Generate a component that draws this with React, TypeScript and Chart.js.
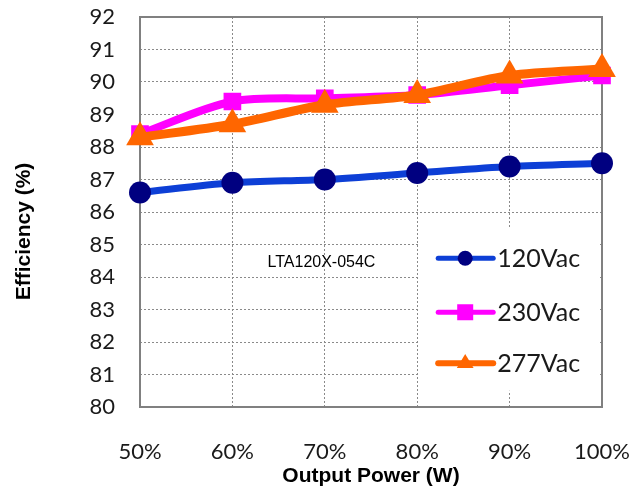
import React, { useEffect, useRef } from "react";
import { Chart, registerables } from "chart.js";

Chart.register(...registerables);

const categories = ["50%", "60%", "70%", "80%", "90%", "100%"];
const v120 = [86.6, 86.9, 87.0, 87.2, 87.4, 87.5];
const v230 = [88.4, 89.4, 89.5, 89.6, 89.9, 90.2];
const v277 = [88.3, 88.7, 89.3, 89.6, 90.2, 90.4];
const seriesNames = ["120Vac", "230Vac", "277Vac"];
const annotationText = "LTA120X-054C";
const xTitle = "Output Power (W)";
const yTitle = "Efficiency (%)";
const yMin = 80;
const yMax = 92;

const BLUE_LINE = "#0d3fd6";
const NAVY = "#000080";
const PINK = "#ff00ff";
const ORANGE = "#ff6600";

type Item = { name: string; line: string; fill: string; shape: string; lw: number };

function drawMarker(ctx: CanvasRenderingContext2D, shape: string, x: number, y: number, r: number, color: string) {
  ctx.save();
  ctx.fillStyle = color;
  ctx.beginPath();
  if (shape === "circle") {
    ctx.arc(x, y, r, 0, Math.PI * 2);
  } else if (shape === "rect") {
    ctx.rect(x - r, y - r, 2 * r, 2 * r);
  } else {
    ctx.moveTo(x, y - r * 1.15);
    ctx.lineTo(x + r * 1.05, y + r * 0.6);
    ctx.lineTo(x - r * 1.05, y + r * 0.6);
    ctx.closePath();
  }
  ctx.fill();
  ctx.restore();
}

const decorPlugin = {
  id: "decor",
  beforeDatasetsDraw(chart: any) {
    const { ctx, chartArea, scales } = chart;
    const xs = scales.x;
    const ys = scales.y;
    // legend box
    const bx0 = xs.getPixelForValue(3) + 1;
    const bx1 = chartArea.right - 3;
    const by0 = ys.getPixelForValue(85.5);
    const by1 = ys.getPixelForValue(80.5);
    ctx.save();
    ctx.fillStyle = "#ffffff";
    ctx.fillRect(bx0, by0, bx1 - bx0, by1 - by0);
    ctx.restore();

    const items: Item[] = [
      { name: seriesNames[0], line: BLUE_LINE, fill: NAVY, shape: "circle", lw: 5 },
      { name: seriesNames[1], line: PINK, fill: PINK, shape: "rect", lw: 5 },
      { name: seriesNames[2], line: ORANGE, fill: ORANGE, shape: "triangle", lw: 6 },
    ];
    const rowOffsets = [30, 84, 135];
    items.forEach((it, i) => {
      const cy = by0 + rowOffsets[i];
      const lx0 = bx0 + 20;
      const lx1 = bx0 + 75;
      ctx.save();
      ctx.strokeStyle = it.line;
      ctx.lineWidth = it.lw;
      ctx.lineCap = "round";
      ctx.beginPath();
      ctx.moveTo(lx0, cy);
      ctx.lineTo(lx1, cy);
      ctx.stroke();
      ctx.restore();
      drawMarker(ctx, it.shape, bx0 + 47, cy, it.shape === "circle" ? 7.5 : 8, it.fill);
      ctx.save();
      ctx.fillStyle = "#1a1a1a";
      ctx.font = "25px Lato";
      ctx.textBaseline = "middle";
      ctx.textAlign = "left";
      ctx.fillText(it.name, bx0 + 79, cy + 1);
      ctx.restore();
    });

    // annotation text
    ctx.save();
    ctx.fillStyle = "#000000";
    ctx.font = "16px 'Liberation Sans', Arial, sans-serif";
    ctx.textBaseline = "middle";
    ctx.textAlign = "left";
    ctx.fillText(annotationText, xs.getPixelForValue(1.38), ys.getPixelForValue(84.45));
    ctx.restore();

    // y title
    ctx.save();
    ctx.fillStyle = "#000000";
    ctx.font = "bold 21px 'Liberation Sans', Arial, sans-serif";
    ctx.textBaseline = "middle";
    ctx.textAlign = "center";
    ctx.translate(24, ys.getPixelForValue(85.4));
    ctx.rotate(-Math.PI / 2);
    ctx.fillText(yTitle, 0, 0);
    ctx.restore();

    // frame
    ctx.save();
    ctx.strokeStyle = "#808080";
    ctx.lineWidth = 2;
    ctx.strokeRect(chartArea.left, chartArea.top, chartArea.right - chartArea.left, chartArea.bottom - chartArea.top);
    ctx.restore();
  },
};

function zeroPad(scale: any) {
  scale.paddingTop = 0;
  scale.paddingBottom = 0;
  scale.paddingLeft = 0;
  scale.paddingRight = 0;
}

export default function App() {
  const ref = useRef<HTMLCanvasElement | null>(null);
  useEffect(() => {
    if (!ref.current) return;
    const chart = new Chart(ref.current, {
      type: "line",
      data: {
        labels: categories,
        datasets: [
          {
            label: seriesNames[0],
            data: v120,
            borderColor: BLUE_LINE,
            backgroundColor: NAVY,
            pointBackgroundColor: NAVY,
            pointBorderColor: NAVY,
            pointStyle: "circle",
            pointRadius: 11,
            pointBorderWidth: 0,
            borderWidth: 7,
            tension: 0.3,
            order: 2,
          },
          {
            label: seriesNames[1],
            data: v230,
            borderColor: PINK,
            backgroundColor: PINK,
            pointBackgroundColor: PINK,
            pointBorderColor: PINK,
            pointStyle: "rect",
            pointRadius: 12.5,
            pointBorderWidth: 0,
            borderWidth: 8,
            tension: 0.3,
            order: 1,
          },
          {
            label: seriesNames[2],
            data: v277,
            borderColor: ORANGE,
            backgroundColor: ORANGE,
            pointBackgroundColor: ORANGE,
            pointBorderColor: ORANGE,
            pointStyle: "triangle",
            pointRadius: 16,
            pointBorderWidth: 0,
            borderWidth: 9,
            tension: 0.3,
            order: 0,
          },
        ],
      },
      options: {
        animation: false,
        responsive: true,
        maintainAspectRatio: false,
        layout: { autoPadding: false, padding: { top: 17, right: 42, left: 0, bottom: 0 } },
        plugins: { legend: { display: false }, tooltip: { enabled: false } },
        scales: {
          x: {
            type: "category",
            offset: false,
            grid: { color: "#8a8a8a", lineWidth: 1, drawTicks: false },
            border: { display: false, dash: [2, 2] },
            ticks: { font: { family: "Lato", size: 22 }, color: "#1a1a1a", padding: 32, maxRotation: 0 },
            title: {
              display: true,
              text: xTitle,
              font: { family: "'Liberation Sans', Arial", size: 21, weight: "bold" },
              color: "#000000",
              padding: { top: 0, bottom: 4 },
            },
            afterFit: (scale: any) => {
              scale.height = 86;
              zeroPad(scale);
            },
          },
          y: {
            min: yMin,
            max: yMax,
            grid: { color: "#8a8a8a", lineWidth: 1, drawTicks: false },
            border: { display: false, dash: [2, 2] },
            ticks: { stepSize: 1, font: { family: "Lato", size: 22 }, color: "#1a1a1a", padding: 25 },
            title: { display: false },
            afterFit: (scale: any) => {
              scale.width = 140;
              zeroPad(scale);
            },
          },
        },
      },
      plugins: [decorPlugin],
    } as any);
    return () => chart.destroy();
  }, []);
  return (
    <div style={{ position: "fixed", left: 0, top: 0, width: 644, height: 493, background: "#ffffff" }}>
      <canvas ref={ref} />
    </div>
  );
}
